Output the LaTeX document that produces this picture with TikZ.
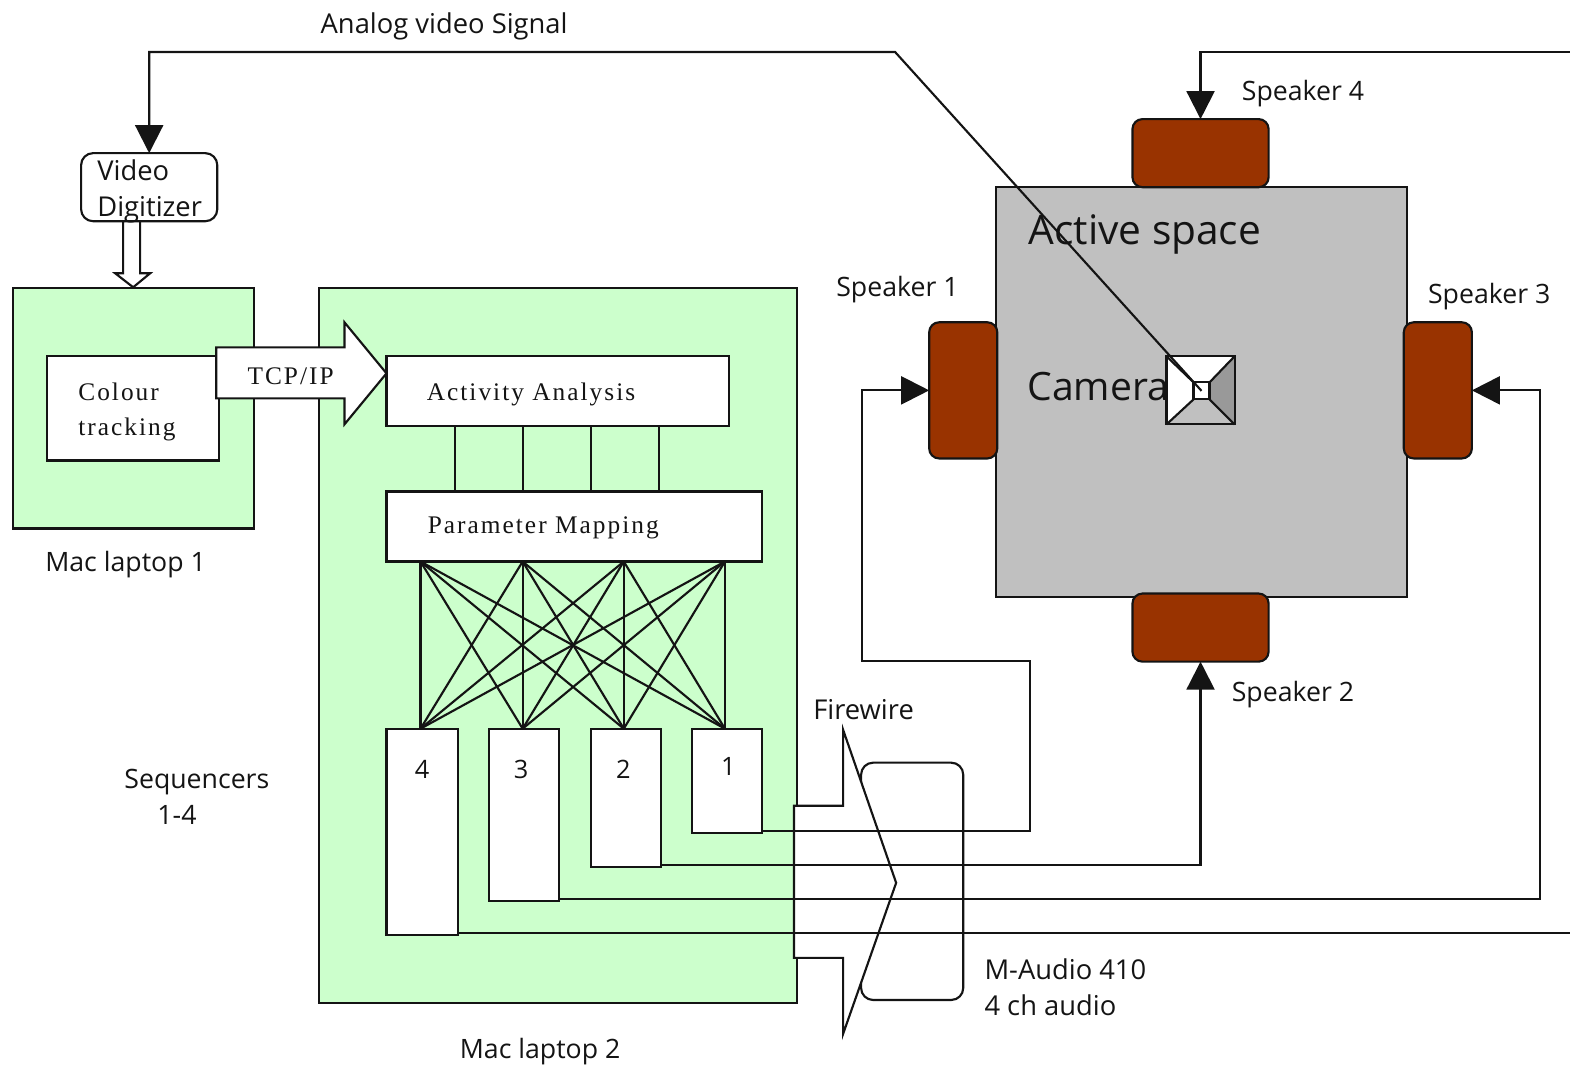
\documentclass[tikz,border=0pt]{standalone}
\usepackage{fontspec}
\setmainfont{Open Sans}
\newfontfamily\serifsp[LetterSpace=8]{Liberation Serif}
\usetikzlibrary{arrows.meta}
\definecolor{lap}{HTML}{CCFFCC}
\definecolor{spk}{HTML}{993300}
\definecolor{act}{HTML}{C0C0C0}
\definecolor{ink}{HTML}{141414}
\newcommand{\bx}[6][]{\node[base box,#1,minimum width={(#5-#3)*0.751pt},minimum height={(#6-#4)*0.751pt}] (#2) at ({(#3+#5)/2},{(#4+#6)/2}) {};}
\tikzset{
  base box/.style={draw=ink,line width=1.6pt,inner sep=0pt,outer sep=0pt,fill=white},
  laptop/.style={fill=lap},
  speaker/.style={fill=spk,rounded corners=7.5pt},
  rounded box/.style={rounded corners=9pt},
  wire/.style={draw=ink,line width=1.6pt},
  arrowed/.style={wire,-{Triangle[length=21pt,width=21pt]}},
  hollow/.style={draw=ink,line width=1.6pt,fill=white,line join=miter},
  lab/.style={anchor=base west,inner sep=0pt,text=ink,font=\fontsize{20.5}{20.5}\selectfont},
  spklab/.style={anchor=base west,inner sep=0pt,text=ink,font=\fontsize{20}{20}\selectfont},
  numlab/.style={anchor=base west,inner sep=0pt,text=ink,font=\fontsize{19}{19}\selectfont},
  serlab/.style={anchor=base west,inner sep=0pt,text=ink,font=\serifsp\fontsize{19}{19}\selectfont},
  biglab/.style={anchor=base west,inner sep=0pt,text=ink,font=\fontsize{30.5}{30.5}\selectfont},
  camlab/.style={anchor=base west,inner sep=0pt,text=ink,font=\fontsize{29.3}{29.3}\selectfont},
}
\begin{document}
\begin{tikzpicture}[x=0.75096pt,y=-0.7507pt]
\useasboundingbox (0,0) rectangle (1568,1066);
% laptops
\bx[laptop]{lap1}{13}{288}{254}{528}
\bx[laptop]{lap2}{319}{288}{796}{1002}
\bx{track}{47}{356}{219}{460}
\bx{activity}{386}{356}{728}{426}
\bx{param}{386}{491}{761}{561}
% activity to parameter
\foreach \x/\n in {454/a,522/b,590/c,658/d}{
  \coordinate (aa\n) at (\x,426);
  \coordinate (pm\n) at (\x,491);
  \draw[wire] (aa\n) -- (pm\n);
}
% sequencers
\bx{seqd}{386}{728}{457}{934}
\bx{seqc}{488}{728}{558}{900}
\bx{seqb}{590}{728}{660}{866}
\bx{seqa}{691}{728}{761}{832}
% fan
\foreach \x/\n in {420/a,522/b,623/c,724/d}{
  \coordinate (pt\n) at (\x,561);
  \coordinate (st\n) at (\x,728);
}
\foreach \p in {a,b,c,d}{\foreach \q in {a,b,c,d}{\draw[wire] (pt\p) -- (st\q);}}
% M-Audio and Firewire arrow
\bx[rounded box]{maudio}{860}{762}{962}{999}
\coordinate (fwa) at (793,805);
\coordinate (fwb) at (842,805);
\coordinate (fwc) at (842,729);
\coordinate (fwtip) at (895,882);
\coordinate (fwd) at (842,1033);
\coordinate (fwe) at (842,957);
\coordinate (fwf) at (793,957);
\draw[hollow] (fwa) -- (fwb) -- (fwc) -- (fwtip) -- (fwd) -- (fwe) -- (fwf) -- cycle;
% active space
\bx[fill=act]{active}{995}{187}{1405}{596}
% speakers
\bx[speaker]{sfour}{1131}{119}{1267}{187}
\bx[speaker]{stwo}{1131}{593}{1267}{661}
\bx[speaker]{sone}{928}{322}{996}{458}
\bx[speaker]{sthree}{1402}{322}{1470}{458}
% camera
\bx{cam}{1165}{356}{1233}{424}
\bx{lens}{1192}{382}{1208}{399}
\fill[act] (cam.south west) -- (cam.south east) -- (lens.south east) -- (lens.south west) -- cycle;
\fill[black!40] (cam.north east) -- (cam.south east) -- (lens.south east) -- (lens.north east) -- cycle;
\draw[wire] (cam.north west) rectangle (cam.south east);
\draw[wire] (lens.north west) rectangle (lens.south east);
\foreach \c in {north west,north east,south west,south east}{\draw[wire] (cam.\c) -- (lens.\c);}
% digitizer
\bx[rounded box]{digit}{81}{153}{217}{221}
% hollow arrows
\coordinate (dga) at (123,221);
\coordinate (dgb) at (140,221);
\coordinate (dgc) at (140,273);
\coordinate (dgd) at (150,273);
\coordinate (dgtip) at (133,287);
\coordinate (dge) at (115,273);
\coordinate (dgf) at (123,273);
\draw[hollow] (dga) -- (dgb) -- (dgc) -- (dgd) -- (dgtip) -- (dge) -- (dgf) -- cycle;
\coordinate (tca) at (216,347);
\coordinate (tcb) at (344,347);
\coordinate (tcc) at (344,322);
\coordinate (tctip) at (386,373);
\coordinate (tcd) at (344,424);
\coordinate (tce) at (344,398);
\coordinate (tcf) at (216,398);
\draw[hollow] (tca) -- (tcb) -- (tcc) -- (tctip) -- (tcd) -- (tce) -- (tcf) -- cycle;
% connectors
\coordinate (vbend) at (894,52);
\coordinate (vtop) at (149,52);
\draw[arrowed] (lens.center) -- (vbend) -- (vtop) -- (digit.north -| vtop);
\coordinate (ina) at (1029,830);
\coordinate (inb) at (1029,660);
\coordinate (inc) at (861,660);
\coordinate (ind) at (861,390);
\draw[arrowed] (seqa.east |- ina) -- (ina) -- (inb) -- (inc) -- (ind) -- (sone.west |- ind);
\coordinate (twa) at (1199,864);
\draw[arrowed] (seqb.east |- twa) -- (twa) -- (twa |- stwo.south);
\coordinate (tha) at (1538,898);
\coordinate (thb) at (1538,390);
\draw[arrowed] (seqc.east |- tha) -- (tha) -- (thb) -- (sthree.east |- thb);
\coordinate (foa) at (1568,932);
\draw[wire] (seqd.east |- foa) -- (foa);
\coordinate (fob) at (1568,52);
\coordinate (foc) at (1199,52);
\draw[arrowed] (fob) -- (foc) -- (foc |- sfour.north);
% labels
\node[lab] (tanalog) at (320,33) {Analog video Signal};
\node[lab] (tvideo) at (97,180) {Video};
\node[lab] (tdigit) at (97,216) {Digitizer};
\node[spklab] (tsp4) at (1240,100) {Speaker 4};
\node[spklab] (tsp1) at (835,296) {Speaker 1};
\node[spklab] (tsp3) at (1426,303) {Speaker 3};
\node[spklab] (tsp2) at (1230,701) {Speaker 2};
\node[lab] (tfire) at (812,719) {Firewire};
\node[spklab] (tml1) at (45,571) {Mac laptop 1};
\node[spklab] (tml2) at (459,1058) {Mac laptop 2};
\node[spklab] (tseq) at (124,788) {Sequencers};
\node[spklab] (tseqn) at (157,824) {1-4};
\node[lab] (tma) at (983,979) {M-Audio 410};
\node[lab] (tch) at (983,1015) {4 ch audio};
\node[numlab] (nfour) at (414,778) {4};
\node[numlab] (nthree) at (513,778) {3};
\node[numlab] (ntwo) at (615,778) {2};
\node[numlab] (nuno) at (720,775) {1};
\node[serlab] (tcol) at (78,400) {Colour};
\node[serlab] (ttrk) at (78,435) {tracking};
\node[serlab] (ttcp) at (247,384) {TCP/IP};
\node[serlab] (taa) at (426,400) {Activity Analysis};
\node[serlab] (tpm) at (427,533) {Parameter Mapping};
\node[biglab] (tas) at (1027,244) {Active space};
\node[camlab] (tcam) at (1026,400) {Camera};
\end{tikzpicture}
\end{document}
